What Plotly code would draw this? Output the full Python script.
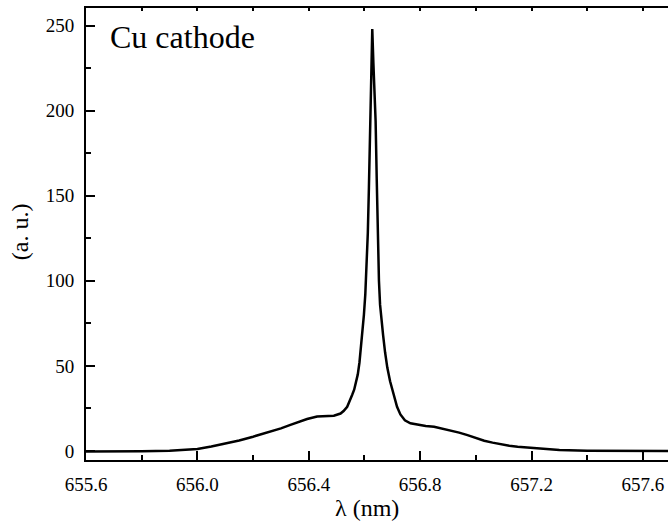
import plotly.graph_objects as go

wavelength_nm = [655.60, 655.70, 655.80, 655.90, 655.95, 656.00, 656.05, 656.10, 656.15,
                 656.20, 656.25, 656.30, 656.334, 656.36, 656.394, 656.43, 656.46, 656.49,
                 656.514, 656.525, 656.538, 656.548, 656.556, 656.563, 656.570, 656.576,
                 656.582, 656.588, 656.593, 656.598, 656.603, 656.608, 656.612, 656.616,
                 656.620, 656.624, 656.628, 656.632, 656.636, 656.640, 656.644, 656.648,
                 656.652, 656.656, 656.661, 656.667, 656.674, 656.682, 656.692, 656.705,
                 656.717, 656.729, 656.745, 656.765, 656.80, 656.82, 656.85, 656.88,
                 656.91, 656.94, 656.97, 657.00, 657.03, 657.06, 657.09, 657.12, 657.15,
                 657.21, 657.30, 657.40, 657.50, 657.60, 657.69]
intensity_au = [-0.3, -0.4, -0.2, 0.2, 0.5, 1.2, 2.6, 4.3, 6.2,
                8.4, 10.7, 13.3, 15.3, 17.0, 18.8, 20.3, 20.6, 20.7,
                22.0, 23.5, 26.0, 29.5, 33.0, 36.0, 40.0, 45.0,
                52.0, 61.0, 70.0, 80.0, 92.0, 108.0, 128.0, 155.0,
                190.0, 222.0, 248.0, 228.0, 213.0, 194.0, 160.0, 125.0,
                100.0, 86.0, 76.0, 68.0, 58.0, 49.0, 41.0, 33.0,
                26.0, 21.5, 18.0, 16.3, 15.0, 14.7, 14.2, 13.2,
                12.0, 10.8, 9.3, 7.6, 6.0, 4.9, 3.9, 3.1, 2.5,
                1.6, 0.6, 0.2, 0.0, -0.1, 0.0]

x_tick_vals = [655.6, 656.0, 656.4, 656.8, 657.2, 657.6]
x_tick_text = ["655.6", "656.0", "656.4", "656.8", "657.2", "657.6"]
y_tick_vals = [0, 50, 100, 150, 200, 250]
y_tick_text = ["0", "50", "100", "150", "200", "250"]

FONT = "Liberation Serif"

fig = go.Figure()
fig.add_trace(go.Scatter(x=wavelength_nm, y=intensity_au, mode="lines",
                         line=dict(color="black", width=2.5),
                         showlegend=False, hoverinfo="skip"))
fig.add_trace(go.Scatter(x=[], y=[], xaxis="x2", showlegend=False))

fig.update_layout(
    width=668, height=525,
    margin=dict(l=86, r=0, t=8, b=65),
    paper_bgcolor="white", plot_bgcolor="white",
    font=dict(family=FONT, color="black", size=19),
    xaxis=dict(range=[655.6, 657.69], tickvals=x_tick_vals, ticktext=x_tick_text,
               ticks="inside", ticklen=9, tickwidth=1.5, tickcolor="black",
               showline=True, linewidth=2, linecolor="black", mirror=True,
               showgrid=False, zeroline=False, ticklabelstandoff=6,
               minor=dict(dtick=0.2, tick0=655.6, ticks="inside", ticklen=5,
                          tickwidth=1.5, tickcolor="black", showgrid=False),
               tickfont=dict(family=FONT, size=19, color="black")),
    xaxis2=dict(overlaying="x", side="top", matches="x", range=[655.6, 657.69],
                tickvals=x_tick_vals, showticklabels=False,
                ticks="inside", ticklen=3, tickwidth=1.5, tickcolor="black",
                showline=False, showgrid=False, zeroline=False,
                minor=dict(dtick=0.2, tick0=655.6, ticks="inside", ticklen=3,
                           tickwidth=1.5, tickcolor="black", showgrid=False)),
    yaxis=dict(range=[-5.3, 260.3], tickvals=y_tick_vals, ticktext=y_tick_text,
               ticks="inside", ticklen=9, tickwidth=1.5, tickcolor="black",
               showline=True, linewidth=2, linecolor="black", mirror=False,
               showgrid=False, zeroline=False, ticklabelstandoff=6,
               minor=dict(dtick=25, tick0=0, ticks="inside", ticklen=5,
                          tickwidth=1.5, tickcolor="black", showgrid=False),
               tickfont=dict(family=FONT, size=19, color="black")),
    annotations=[
        dict(text="Cu cathode", x=0.0378, y=0.936, xref="paper", yref="paper",
             xanchor="left", yanchor="middle", showarrow=False,
             font=dict(family=FONT, size=32, color="black")),
        dict(text="λ (nm)", x=0.483, y=-0.106, xref="paper", yref="paper",
             xanchor="center", yanchor="middle", showarrow=False,
             font=dict(family=FONT, size=24, color="black")),
        dict(text="(a. u.)", x=-0.1134, y=0.504, xref="paper", yref="paper",
             xanchor="center", yanchor="middle", showarrow=False, textangle=-90,
             font=dict(family=FONT, size=24, color="black")),
    ],
)

fig.write_html("out.html")
